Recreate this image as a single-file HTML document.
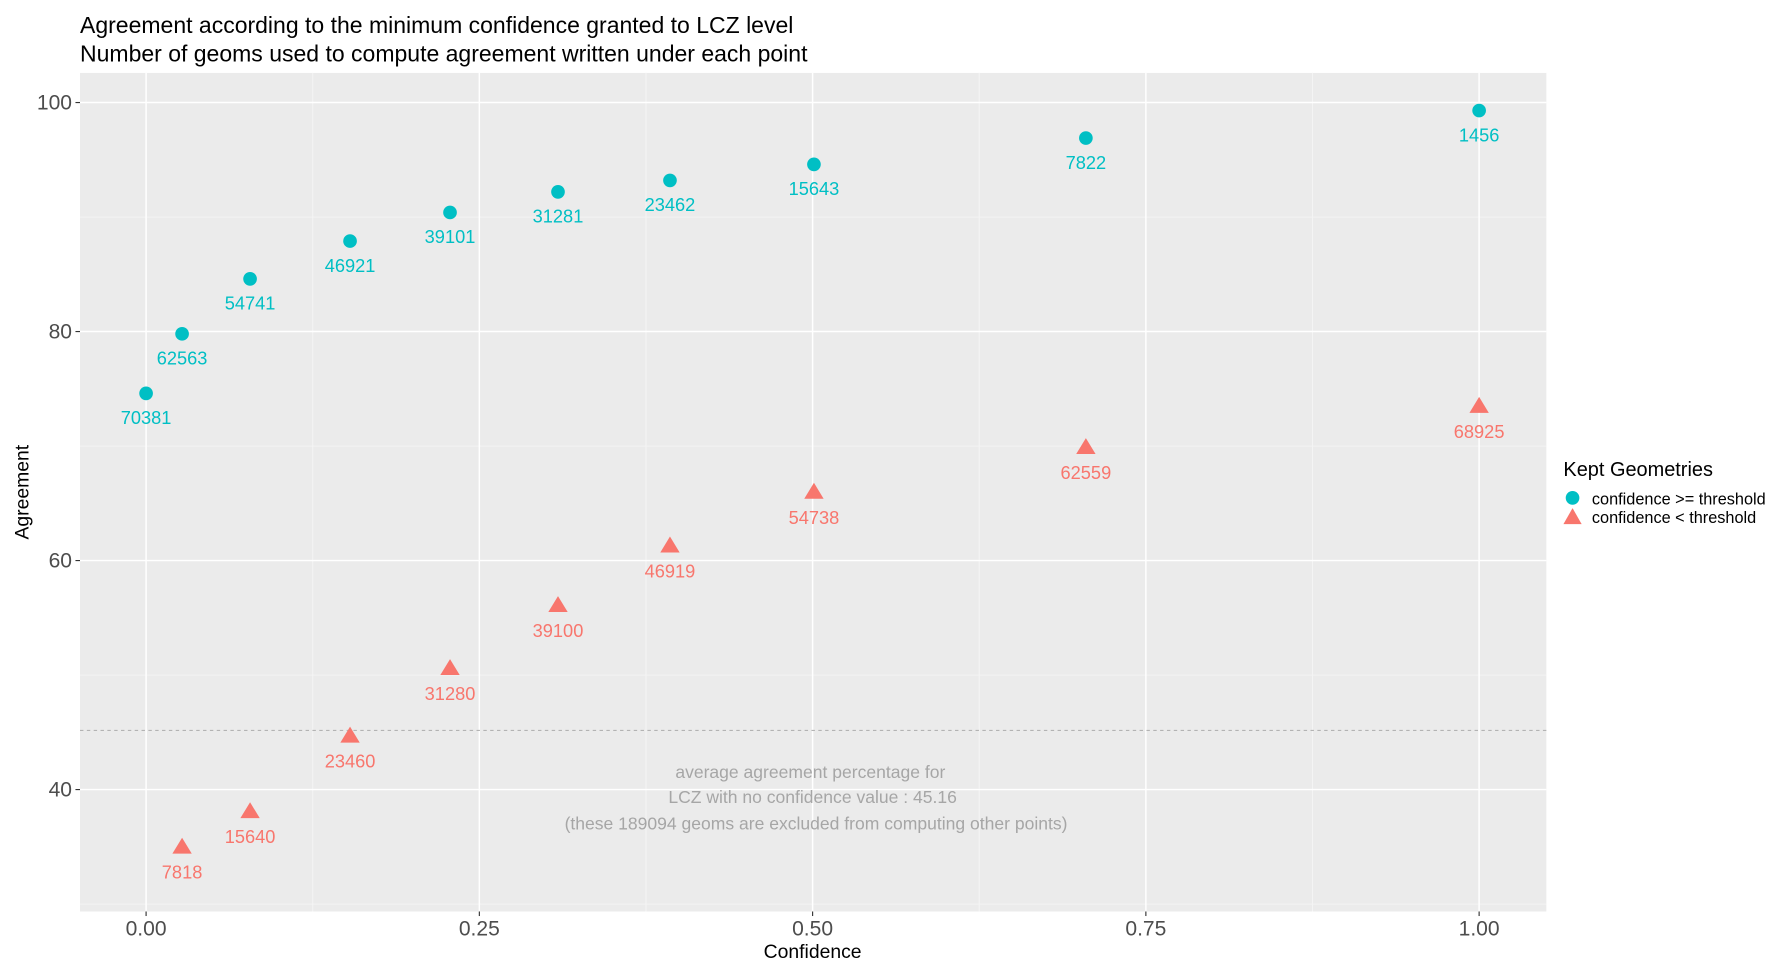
<!DOCTYPE html>
<html><head><meta charset="utf-8"><style>
html,body{margin:0;padding:0;background:#fff;}
svg{display:block;font-family:"Liberation Sans",sans-serif;}
</style></head><body>
<svg id="chart" width="1787" height="973" viewBox="0 0 1568 854" xmlns="http://www.w3.org/2000/svg">
<text x="70" y="29" font-size="20.2" fill="#000">Agreement according to the minimum confidence granted to LCZ level</text>
<text x="70" y="54" font-size="20.2" fill="#000">Number of geoms used to compute agreement written under each point</text>
<rect x="70" y="64" width="1287" height="736" fill="#ebebeb"/>
<g id="grid"></g>
<g id="marks"></g>
<text x="713" y="841" font-size="17" text-anchor="middle">Confidence</text>
<text transform="translate(25,432) rotate(-90)" font-size="17" text-anchor="middle">Agreement</text>
<g>
<text x="1372" y="418" font-size="17.5">Kept Geometries</text>
<circle cx="1380" cy="437" r="6" fill="#00bfc4"/>
<text x="1397" y="443" font-size="14.3">confidence &gt;= threshold</text>
<polygon points="1380,446 1388,460 1372,460" fill="#f8766d"/>
<text x="1397" y="459" font-size="14.3">confidence &lt; threshold</text>
</g>
<g font-size="15.4" fill="#a6a6a6" text-anchor="middle">
<text x="711" y="683">average agreement percentage for</text>
<text x="713" y="705">LCZ with no confidence value : 45.16</text>
<text x="716" y="728">(these 189094 geoms are excluded from computing other points)</text>
</g>
</svg>
<script>
const confAbove=[0,0.027,0.078,0.153,0.228,0.309,0.393,0.501,0.705,1.0];
const agreeAbove=[74.6,79.8,84.6,87.9,90.4,92.2,93.2,94.6,96.9,99.3];
const countAbove=["70381","62563","54741","46921","39101","31281","23462","15643","7822","1456"];
const confBelow=[0.027,0.078,0.153,0.228,0.309,0.393,0.501,0.705,1.0];
const agreeBelow=[35.0,38.1,44.7,50.6,56.1,61.3,66.0,69.9,73.5];
const countBelow=["7818","15640","23460","31280","39100","46919","54738","62559","68925"];
const xTicks=[0,0.25,0.5,0.75,1.0];
const xTickLabels=["0.00","0.25","0.50","0.75","1.00"];
const yTicks=[40,60,80,100];
const noConfAvg=45.16;

const NS="http://www.w3.org/2000/svg";
const sx=v=>128+v*1170;
const sy=v=>90+(100-v)*10.05;
function mk(tag,attrs,parent,txt){const e=document.createElementNS(NS,tag);for(const k in attrs)e.setAttribute(k,attrs[k]);if(txt!==undefined)e.textContent=txt;parent.appendChild(e);return e;}
const grid=document.getElementById('grid'), marks=document.getElementById('marks');
[0.125,0.375,0.625,0.875].forEach(v=>{const l=mk('line',{x1:sx(v),x2:sx(v),y1:64,y2:800,stroke:'#f5f5f5','stroke-width':0.8},grid);

});
[30,50,70,90].forEach(v=>{const l=mk('line',{x1:70,x2:1357,y1:sy(v),y2:sy(v),stroke:'#f5f5f5','stroke-width':0.8},grid);

});
xTicks.forEach((v,i)=>{const l=mk('line',{x1:sx(v),x2:sx(v),y1:64,y2:800,stroke:'#fff','stroke-width':1.3},grid);


mk('line',{x1:sx(v),x2:sx(v),y1:800,y2:804,stroke:'#333'},grid);
const t=mk('text',{x:sx(v),y:821,'font-size':18.5,fill:'#4d4d4d','text-anchor':'middle'},grid,xTickLabels[i]);

});
yTicks.forEach(v=>{const l=mk('line',{x1:70,x2:1357,y1:sy(v),y2:sy(v),stroke:'#fff','stroke-width':1.3},grid);


mk('line',{x1:66,x2:70,y1:sy(v),y2:sy(v),stroke:'#333'},grid);
const t=mk('text',{x:63,y:sy(v)+6,'font-size':18.5,fill:'#4d4d4d','text-anchor':'end'},grid,String(v));

});
const ref=mk('line',{x1:70,x2:1357,y1:sy(noConfAvg),y2:sy(noConfAvg),stroke:'#b3b3b3','stroke-dasharray':'3,3','stroke-width':1},grid);


confAbove.forEach((c,i)=>{const p=mk('circle',{cx:sx(c),cy:sy(agreeAbove[i]),r:6,fill:'#00bfc4'},marks);


const t=mk('text',{x:sx(c),y:sy(agreeAbove[i])+27,'font-size':16,fill:'#00bfc4','text-anchor':'middle'},marks,countAbove[i]);

});
confBelow.forEach((c,i)=>{const x=sx(c),y=sy(agreeBelow[i]);
const p=mk('polygon',{points:`${x},${y-8} ${x+8.5},${y+6} ${x-8.5},${y+6}`,fill:'#f8766d'},marks);


const t=mk('text',{x:x,y:y+28,'font-size':16,fill:'#f8766d','text-anchor':'middle'},marks,countBelow[i]);

});
</script>
</body></html>
